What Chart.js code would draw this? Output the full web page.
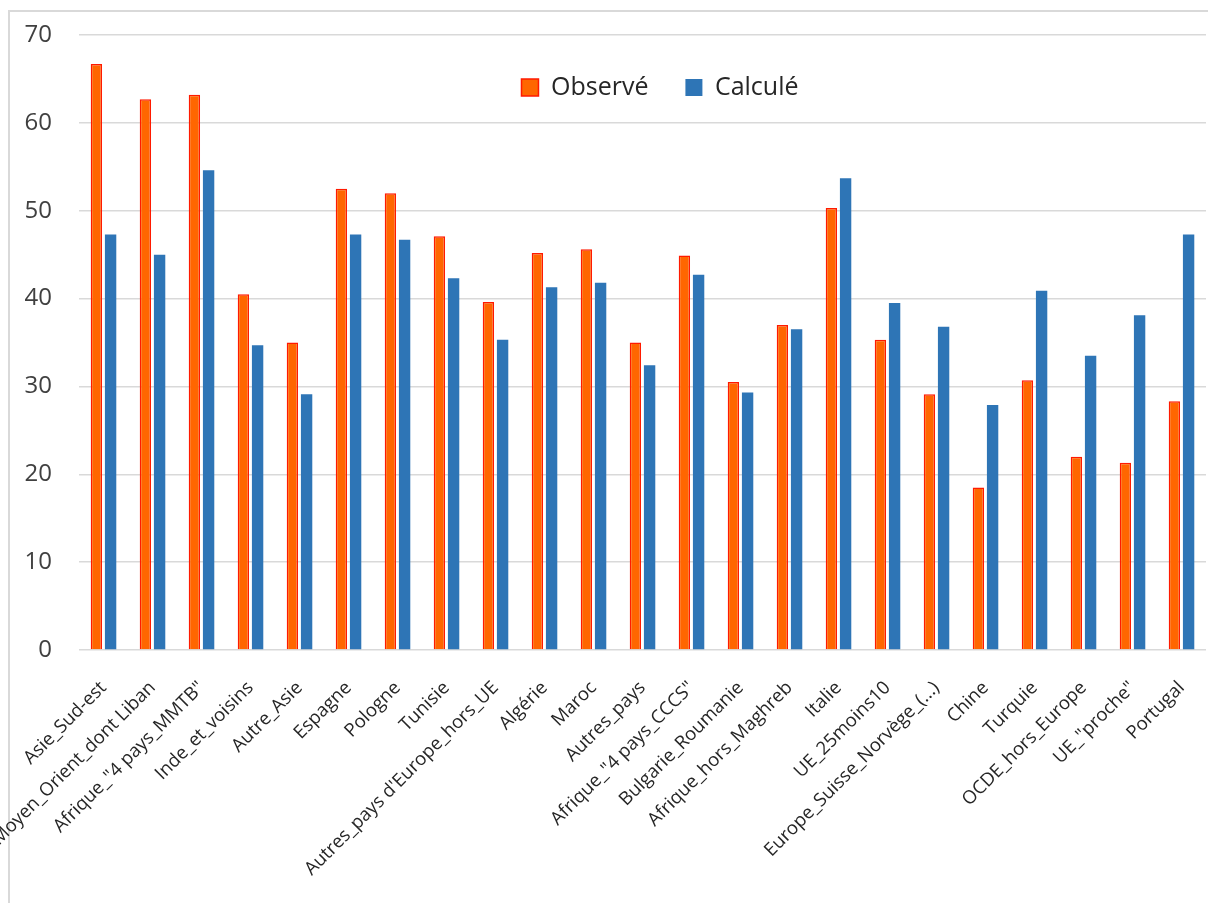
<!DOCTYPE html>
<html>
<head>
<meta charset="utf-8">
<script src="https://cdn.jsdelivr.net/npm/chart.js@4.4.1/dist/chart.umd.min.js"></script>
<style>
  html, body { margin: 0; padding: 0; background: #ffffff; overflow: hidden; }
  #frame { position: absolute; left: 8px; top: 10px; width: 1240px; height: 940px; border: 2px solid #d9d9d9; box-sizing: border-box; }
  #c { position: absolute; left: 0; top: 0; }
</style>
</head>
<body>
<div id="frame"></div>
<canvas id="c" width="1208" height="903"></canvas>
<script>
const categories = [
  'Asie_Sud-est', 'Moyen_Orient_dont Liban', 'Afrique_"4 pays_MMTB"', 'Inde_et_voisins',
  'Autre_Asie', 'Espagne', 'Pologne', 'Tunisie', "Autres_pays d'Europe_hors_UE",
  'Algérie', 'Maroc', 'Autres_pays', 'Afrique_"4 pays_CCCS"', 'Bulgarie_Roumanie',
  'Afrique_hors_Maghreb', 'Italie', 'UE_25moins10', 'Europe_Suisse_Norvège_(...)',
  'Chine', 'Turquie', 'OCDE_hors_Europe', 'UE_"proche"', 'Portugal'
];
const seriesNames = ['Observé', 'Calculé'];
const observe = [66.7, 62.7, 63.2, 40.5, 35.0, 52.5, 52.0, 47.1, 39.6, 45.2, 45.6, 35.0, 44.9, 30.5, 37.0, 50.3, 35.3, 29.1, 18.5, 30.7, 22.0, 21.3, 28.3];
const calcule = [47.3, 45.0, 54.6, 34.7, 29.1, 47.3, 46.7, 42.3, 35.3, 41.3, 41.8, 32.4, 42.7, 29.3, 36.5, 53.7, 39.5, 36.8, 27.9, 40.9, 33.5, 38.1, 47.3];
const yTicks = [0, 10, 20, 30, 40, 50, 60, 70];

const FONT = '"Open Sans", Lato, sans-serif';

// Legend floats inside the plot area (as in the original): it takes no layout space.
const legendFloat = {
  id: 'legendFloat',
  beforeLayout(chart) {
    const L = chart.legend;
    if (L && !L._floatPatched) {
      const origFit = L.fit.bind(L);
      L.fit = function () { origFit(); this._realH = this.height; this.height = 0; };
      L._floatPatched = true;
    }
  },
  afterLayout(chart) {
    const L = chart.legend;
    if (!L) return;
    const dx = 660 - (L.left + L.right) / 2;
    L.left += dx; L.right += dx;
    const pad = L.options.labels.padding;
    const itemH = L.options.labels.font.size;
    L.top = 87.5 - itemH / 2 - pad;
    L.bottom = L.top + (L._realH || 120);
  }
};

new Chart(document.getElementById('c'), {
  type: 'bar',
  data: {
    labels: categories,
    datasets: [
      { label: seriesNames[0], data: observe, backgroundColor: '#FF6600', borderColor: '#FF1A00', borderWidth: 1.5,
        categoryPercentage: 0.58, barPercentage: 0.8 },
      { label: seriesNames[1], data: calcule, backgroundColor: '#2E75B6', borderColor: '#2E75B6', borderWidth: 0,
        categoryPercentage: 0.58, barPercentage: 0.8 }
    ]
  },
  options: {
    responsive: false,
    devicePixelRatio: 1,
    animation: false,
    layout: { padding: { top: 35, left: 0, right: 2, bottom: 0 } },
    plugins: {
      legend: {
        display: true,
        position: 'top',
        labels: {
          font: { family: FONT, size: 25 },
          color: '#262626',
          boxWidth: 17,
          boxHeight: 17,
          padding: 37
        }
      },
      tooltip: { enabled: false }
    },
    scales: {
      x: {
        grid: { display: false },
        border: { display: false },
        ticks: {
          font: { family: FONT, size: 18.5 },
          color: '#262626',
          minRotation: 45,
          maxRotation: 45,
          autoSkip: false,
          padding: 19
        },
        afterFit(s) { s.height = 253; s.paddingRight = 0; }
      },
      y: {
        min: 0,
        max: 70,
        afterBuildTicks(s) { s.ticks = yTicks.map(v => ({ value: v })); },
        grid: { color: '#d9d9d9', lineWidth: 1.5, drawTicks: false },
        border: { display: false },
        ticks: {
          font: { family: FONT, size: 24 },
          color: '#404040',
          padding: 27
        },
        afterFit(s) { s.width = 79; s.paddingTop = 0; s.paddingBottom = 0; }
      }
    }
  },
  plugins: [legendFloat]
});
</script>
</body>
</html>
